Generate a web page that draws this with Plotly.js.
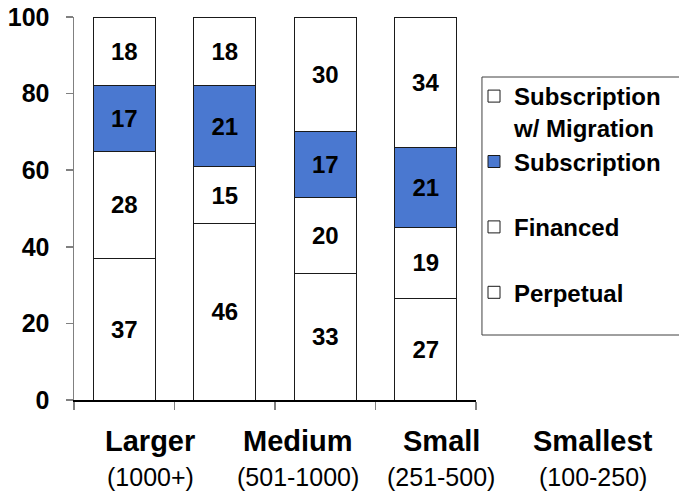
<!DOCTYPE html>
<html>
<head>
<meta charset="utf-8">
<script src="https://cdn.plot.ly/plotly-3.0.1.min.js"></script>
<style>html,body{margin:0;padding:0;background:#fff;}#chart{width:679px;height:493px;}</style>
</head>
<body>
<div id="chart"></div>
<script>
// Categories (slots on the x axis)
const categories = ['Larger', 'Medium', 'Small', 'Smallest'];
const categoryRanges = ['(1000+)', '(501-1000)', '(251-500)', '(100-250)'];

// Segment heights (percent)
const perpetual    = [37, 46, 33, 26.6];
const financed     = [28, 15, 20, 18.5];
const subscription = [17, 21, 17, 20.7];
const subMigration = [18, 18, 30, 34.2];

// Labels printed in the segments
const perpetualLabels    = ['37', '46', '33', '27'];
const financedLabels     = ['28', '15', '20', '19'];
const subscriptionLabels = ['17', '21', '17', '21'];
const subMigrationLabels = ['18', '18', '30', '34'];

// Legend names
const seriesNames = ['Perpetual', 'Financed', 'Subscription', 'Subscription<br>w/ Migration'];

const FONT = 'Liberation Sans, Arial, sans-serif';
const BLUE = '#4a78d0';

function barTrace(y, labels, name, color) {
  return {
    type: 'bar',
    x: categories,
    y: y,
    name: name,
    text: labels,
    texttemplate: '%{text}',
    textposition: 'inside',
    insidetextanchor: 'middle',
    textangle: 0,
    constraintext: 'none',
    textfont: {family: FONT, size: 24, color: '#000', weight: 'bold'},
    width: 0.62,
    marker: {color: color, line: {color: '#1a1a1a', width: 1}},
    hoverinfo: 'skip'
  };
}

const pad = '<br>&nbsp;';
const data = [
  barTrace(perpetual, perpetualLabels, seriesNames[0] + pad, '#ffffff'),
  barTrace(financed, financedLabels, seriesNames[1] + pad, '#ffffff'),
  barTrace(subscription, subscriptionLabels, seriesNames[2] + pad, BLUE),
  barTrace(subMigration, subMigrationLabels, seriesNames[3], '#ffffff')
];

// Category label positions in paper coordinates
const labelX = [151, 300, 444, 597].map(px => (px - 74) / 405);
const annotations = [];
categories.forEach((c, i) => {
  annotations.push({
    xref: 'paper', yref: 'paper', x: labelX[i], y: -0.108,
    xanchor: 'center', yanchor: 'middle', showarrow: false,
    text: c, font: {family: FONT, size: 29, color: '#000', weight: 'bold'}
  });
  annotations.push({
    xref: 'paper', yref: 'paper', x: labelX[i], y: -0.200,
    xanchor: 'center', yanchor: 'middle', showarrow: false,
    text: categoryRanges[i], font: {family: FONT, size: 25, color: '#000'}
  });
});

const layout = {
  width: 679, height: 493,
  margin: {l: 74, r: 200, t: 17, b: 93},
  paper_bgcolor: '#fff', plot_bgcolor: '#fff',
  barmode: 'stack',
  hovermode: false,
  font: {family: FONT, color: '#000'},
  xaxis: {
    type: 'category',
    range: [-0.5, 3.5],
    showticklabels: false,
    tickson: 'boundaries',
    ticks: 'outside', ticklen: 8, tickcolor: '#808080', tickwidth: 1.5,
    showline: true, linecolor: '#000', linewidth: 1.5,
    showgrid: false, zeroline: false, fixedrange: true
  },
  yaxis: {
    range: [0, 100],
    dtick: 20,
    ticks: 'outside', ticklen: 7, tickcolor: '#808080', tickwidth: 1.5,
    ticklabelstandoff: 11,
    tickfont: {family: FONT, size: 25, color: '#000', weight: 'bold'},
    showline: true, linecolor: '#808080', linewidth: 1.5,
    showgrid: false, zeroline: false, fixedrange: true
  },
  showlegend: true,
  legend: {
    x: (477 - 74) / 405, xanchor: 'left',
    y: (400 - 74) / 383, yanchor: 'top',
    traceorder: 'reversed',
    valign: 'top',
    bgcolor: 'rgba(0,0,0,0)', borderwidth: 0,
    itemwidth: 30,
    font: {family: FONT, size: 24, color: '#000', weight: 'bold'}
  },
  shapes: [{
    type: 'rect', xref: 'paper', yref: 'paper',
    x0: (485 - 74) / 405, x1: (690 - 74) / 405,
    y0: (400 - 335) / 383, y1: (400 - 77) / 383,
    line: {color: '#404040', width: 1}, fillcolor: 'rgba(0,0,0,0)', layer: 'below'
  }],
  annotations: annotations
};

Plotly.newPlot('chart', data, layout, {displayModeBar: false, staticPlot: true});
</script>
</body>
</html>
